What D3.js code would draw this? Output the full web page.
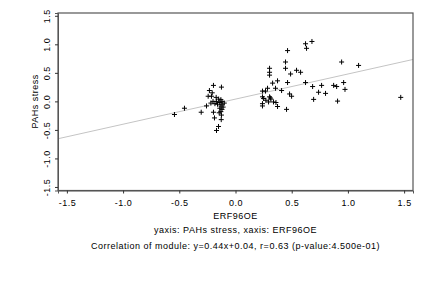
<!DOCTYPE html>
<html>
<head>
<meta charset="utf-8">
<script src="https://cdn.jsdelivr.net/npm/d3@7"></script>
<style>
  body { margin: 0; background: #fff; }
  text { font-family: "Liberation Sans", Arial, sans-serif; fill: #000; letter-spacing: 0.5px; }
</style>
</head>
<body>
<div id="chart"></div>
<script>
// values
var xVals = [-0.543, -0.454, -0.305, -0.258, -0.196, -0.125, -0.232, -0.207, -0.243, -0.214,
             -0.172, -0.219, -0.183, -0.187, -0.127, -0.151, -0.169, -0.196, -0.13, -0.12,
             -0.14, -0.12, -0.13, -0.11, -0.14, -0.12, -0.13, -0.16, -0.17, -0.15,
             -0.2, -0.1, -0.125, -0.145,
             0.623, 0.68, 0.632, 0.463, 0.445, 0.445, 0.944, 1.095, 0.303, 0.303,
             0.303, 0.49, 0.543, 0.579, 0.463, 0.623, 0.33, 0.374, 0.356, 0.41,
             0.285, 0.267, 0.24, 0.24, 0.25, 0.303, 0.31, 0.315, 0.294, 0.24,
             0.24, 0.338, 0.36, 0.374, 0.454, 0.481, 0.499, 0.686, 0.766, 0.739,
             0.801, 0.695, 0.873, 0.9, 0.962, 0.974, 0.908, 1.47, 0.27];
var yVals = [-0.23, -0.12, -0.19, -0.08, 0.28, 0.25, 0.19, 0.15, 0.09, 0.09,
             0.07, -0.03, -0.04, -0.29, -0.32, -0.44, -0.51, -0.19, 0.03, 0.0,
             -0.02, -0.05, -0.08, -0.1, -0.12, -0.14, -0.18, -0.05, 0.0, 0.04,
             0.0, -0.03, -0.24, -0.2,
             1.01, 1.05, 0.93, 0.89, 0.69, 0.58, 0.69, 0.63, 0.58, 0.51,
             0.46, 0.48, 0.545, 0.51, 0.33, 0.33, 0.32, 0.36, 0.23, 0.19,
             0.23, 0.18, 0.18, 0.08, 0.05, 0.08, 0.06, 0.04, -0.01, -0.04,
             -0.08, -0.01, -0.02, -0.09, -0.14, 0.13, 0.09, 0.26, 0.28, 0.16,
             0.14, 0.035, 0.28, 0.26, 0.33, 0.21, 0.005, 0.07, 0.02];
var ticks = [-1.5, -1.0, -0.5, 0.0, 0.5, 1.0, 1.5];
var slope = 0.44, intercept = 0.04;
var xLabel = "ERF96OE", yLabel = "PAHs stress";
var subtitle = "yaxis: PAHs stress, xaxis: ERF96OE";
var caption = "Correlation of module: y=0.44x+0.04, r=0.63 (p-value:4.500e-01)";

var svg = d3.select('#chart').append('svg')
            .attr('width', 432)
            .attr('height', 288);

var pLeft = 58, pRight = 413, pTop = 13, pBottom = 190.5;
var x = d3.scaleLinear().domain([-1.579, 1.579]).range([pLeft, pRight]);
var y = d3.scaleLinear().domain([-1.562, 1.549]).range([pBottom, pTop]);
var fmt = function(d) { return d.toFixed(1); };

// regression line, clipped to the plot box
svg.append('clipPath').attr('id', 'box')
   .append('rect').attr('x', pLeft).attr('y', pTop)
   .attr('width', pRight - pLeft).attr('height', pBottom - pTop);

var xd = x.domain();
svg.append('line')
   .attr('clip-path', 'url(#box)')
   .attr('x1', x(xd[0])).attr('y1', y(slope * xd[0] + intercept))
   .attr('x2', x(xd[1])).attr('y2', y(slope * xd[1] + intercept))
   .attr('stroke', '#c4c4c4')
   .attr('stroke-width', 1);

// points as "+"
var pts = svg.append('g');
xVals.forEach(function(v, i) {
  var cx = x(v), cy = y(yVals[i]);
  pts.append('path')
     .attr('d', 'M' + (cx - 2.5) + ',' + cy + 'H' + (cx + 2.5) + 'M' + cx + ',' + (cy - 2.5) + 'V' + (cy + 2.5))
     .attr('stroke', '#000')
     .attr('stroke-width', 1)
     .attr('fill', 'none');
});

// frame
svg.append('rect')
   .attr('x', pLeft).attr('y', pTop)
   .attr('width', pRight - pLeft).attr('height', pBottom - pTop)
   .attr('fill', 'none')
   .attr('stroke', '#555')
   .attr('stroke-width', 1.2);

// axes
var xAxis = d3.axisBottom(x).tickValues(ticks).tickSize(3).tickPadding(4).tickFormat(fmt);
var gx = svg.append('g').attr('transform', 'translate(0,' + pBottom + ')').call(xAxis);
gx.selectAll('text').style('font-size', '9px').attr('dy', '0.9em');

var yAxis = d3.axisLeft(y).tickValues(ticks).tickSize(3).tickFormat(fmt);
var gy = svg.append('g').attr('transform', 'translate(' + pLeft + ',0)').call(yAxis);
gy.selectAll('text').remove();
gy.selectAll('.tick').append('text')
  .attr('transform', 'translate(-8.5,0) rotate(-90)')
  .attr('text-anchor', 'middle')
  .style('font-size', '9px')
  .text(fmt);

[gx, gy].forEach(function(g) {
  g.select('.domain').attr('stroke', '#555');
  g.selectAll('.tick line').attr('stroke', '#333');
  g.selectAll('text').attr('fill', '#000').attr('font-family', '"Liberation Sans", Arial, sans-serif');
});

// labels
svg.append('text').attr('x', x(0)).attr('y', 218.5)
   .attr('text-anchor', 'middle').style('font-size', '9px').text(xLabel);
svg.append('text').attr('transform', 'translate(37.5,' + y(0) + ') rotate(-90)')
   .attr('text-anchor', 'middle').style('font-size', '9px').text(yLabel);
svg.append('text').attr('x', x(0)).attr('y', 233)
   .attr('text-anchor', 'middle').style('font-size', '9px').text(subtitle);
svg.append('text').attr('x', x(0)).attr('y', 248.5)
   .attr('text-anchor', 'middle').style('font-size', '9px').text(caption);
</script>
</body>
</html>
